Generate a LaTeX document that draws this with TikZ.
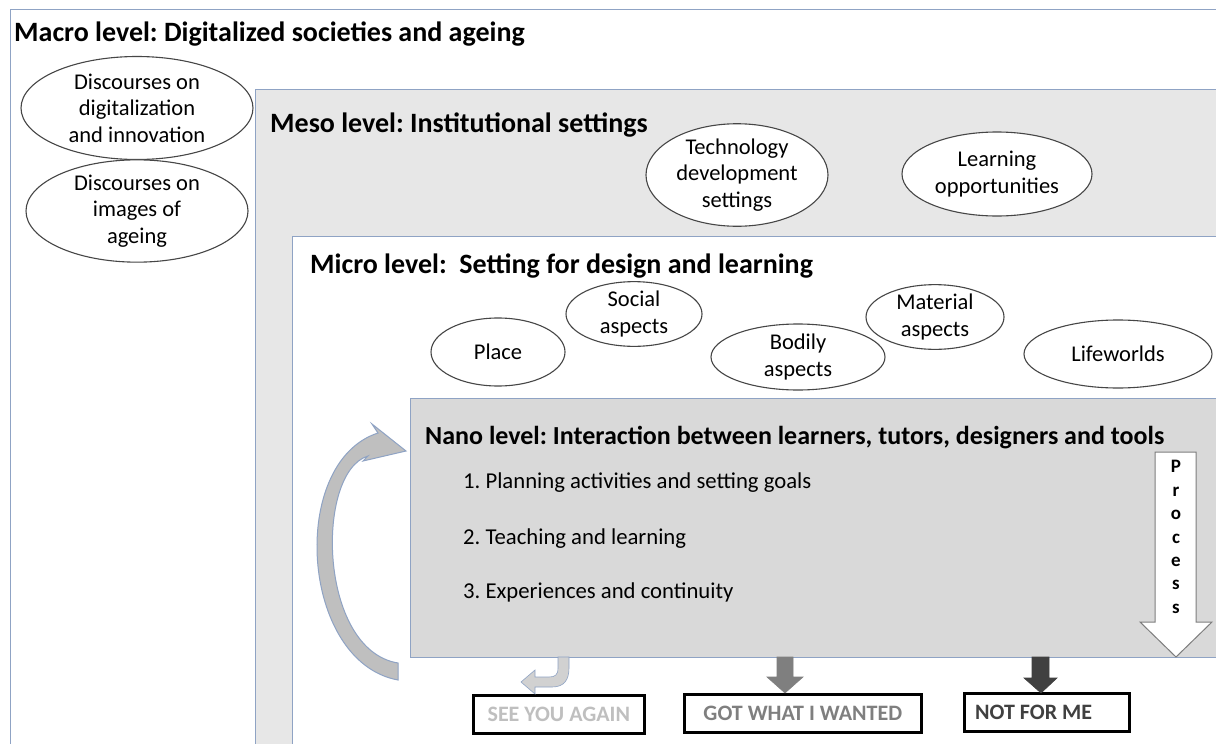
\documentclass[tikz,border=0pt]{standalone}
\usepackage{fontspec}
\setmainfont{Carlito}
\usetikzlibrary{shapes.geometric,calc}
\definecolor{frame}{RGB}{143,163,196}
\definecolor{mesofill}{RGB}{231,231,231}
\definecolor{nanofill}{RGB}{217,217,217}
\definecolor{ell}{RGB}{70,70,70}
\definecolor{cyc}{RGB}{191,191,191}
\definecolor{seecol}{RGB}{191,191,191}
\definecolor{gotcol}{RGB}{127,127,127}
\definecolor{notcol}{RGB}{64,64,64}
\frenchspacing
\begin{document}
\begin{tikzpicture}[x=1pt,y=-1pt,
  lvl/.style={draw=frame, line width=1.3pt, anchor=north west, inner sep=0},
  ttl/.style={anchor=base west, inner sep=0, font=\fontsize{28}{32}\selectfont\bfseries},
  oval/.style={ellipse, draw=ell, fill=white, line width=1.1pt, inner sep=0, align=center,
               font=\fontsize{22.5}{26.5}\selectfont},
  item/.style={anchor=base west, inner sep=0, font=\fontsize{22.7}{26}\selectfont},
  outbox/.style={draw=black, line width=2.6pt, fill=white, anchor=north west, inner sep=0,
                 minimum height=38pt, font=\fontsize{22}{24}\selectfont\bfseries},
  blk/.style={line width=0.6pt, line join=miter},
]
\useasboundingbox (0,0) rectangle (1216,744);
\clip (0,0) rectangle (1216,744);
\fill[white] (0,0) rectangle (1216,744);

% level frames
\node[lvl, fill=white, minimum width=1240pt, minimum height=760pt] (macro) at (10,9) {};
\node[lvl, fill=mesofill, minimum width=1000pt, minimum height=700pt] (meso) at (255,89) {};
\node[lvl, fill=white, minimum width=960pt, minimum height=560pt] (micro) at (292,236) {};
\node[lvl, fill=nanofill, minimum width=830pt, minimum height=259pt] (nano) at (410,398) {};

% titles
\node[ttl] (tmacro) at (14,41) {Macro level: Digitalized societies and ageing};
\node[ttl] (tmeso) at (270,132) {Meso level: Institutional settings};
\node[ttl] (tmicro) at (310,273) {Micro level:\ \ Setting for design and learning};
\node[ttl, font=\fontsize{26}{30}\selectfont\bfseries] (tnano) at (425,444) {Nano level: Interaction between learners, tutors, designers and tools};

% macro ellipses
\node[oval, minimum width=232pt, minimum height=103pt] (disc1) at (137,108) {Discourses on\\digitalization\\and innovation};
\node[oval, minimum width=222pt, minimum height=90pt] (disc2) at (137,211) {Discourses on\\images of\\ageing};

% meso ellipses
\node[oval, minimum width=182pt, minimum height=92pt] (tech) at (737,175) {Technology\\development\\settings};
\node[oval, minimum width=190pt, minimum height=84pt] (learn) at (997,174) {Learning\\opportunities};

% micro ellipses
\node[oval, minimum width=134pt, minimum height=68pt] (place) at (498,352) {Place};
\node[oval, minimum width=136pt, minimum height=63pt] (social) at (634,314) {Social\\aspects};
\node[oval, minimum width=174pt, minimum height=66pt] (bodily) at (798,357) {Bodily\\aspects};
\node[oval, minimum width=138pt, minimum height=61pt] (material) at (935,317) {Material\\aspects};
\node[oval, minimum width=188pt, minimum height=68pt] (life) at (1118,354) {Lifeworlds};

% nano items
\node[item] (i1) at (463,488) {1. Planning activities and setting goals};
\node[item] (i2) at (463,544) {2. Teaching and learning};
\node[item] (i3) at (463,598) {3. Experiences and continuity};

% process arrow
\draw[ell!70, fill=white, line width=1pt, line join=miter]
  (1155,452) -- (1196,452) -- (1196,622) -- (1212,622) -- (1176,657) -- (1140,622) -- (1155,622) -- cycle;
\node[align=center, inner sep=0, font=\fontsize{19}{23.4}\selectfont\bfseries] (proc) at (1176,537)
  {P\\r\\o\\c\\e\\s\\s};

% cycle arrow
\draw[frame, fill=cyc, line width=1pt, line join=miter]
  (398,680) .. controls (300,662) and (288,462) .. (378,433)
  -- (372,424) -- (406,451) -- (363,461) -- (368,456)
  .. controls (315,472) and (318,650) .. (398,663) -- cycle;

% output boxes
\node[outbox, minimum width=171pt, text=seecol] (see) at (472,694) {SEE YOU AGAIN};
\node[outbox, minimum width=237pt, text=gotcol] (got) at (683,693) {GOT WHAT I WANTED};
\node[outbox, minimum width=165pt] (notme) at (963,692) {};
\node[anchor=west, inner sep=0, text=notcol, font=\fontsize{22}{24}\selectfont\bfseries]
  (notmetext) at ($(notme.west)+(12,0)$) {NOT FOR ME};

% output arrows
\draw[blk, frame, fill=black!18]
  (558,657) -- (558,668) .. controls (558,675) and (555,677) .. (549,677) -- (535,677) -- (535,670)
  -- (521,682) -- (535,694) -- (535,687) -- (552,687) .. controls (564,687) and (569,680) .. (569,668)
  -- (569,657) -- cycle;
\draw[blk, draw=gotcol, fill=gotcol]
  (777,657) -- (793,657) -- (793,677) -- (803,677) -- (785,693) -- (767,677) -- (777,677) -- cycle;
\draw[blk, draw=notcol, fill=notcol]
  (1032,657) -- (1049,657) -- (1049,678) -- (1057,678) -- (1041,693) -- (1024,678) -- (1032,678) -- cycle;
\end{tikzpicture}
\end{document}
